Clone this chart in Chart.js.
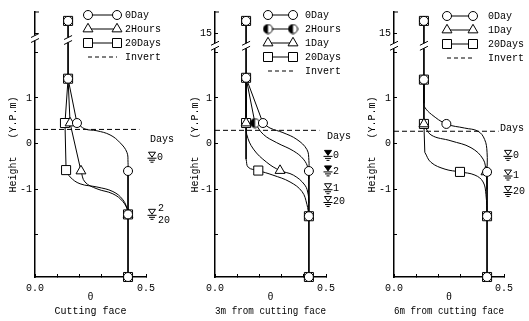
<!DOCTYPE html>
<html>
<head>
<meta charset="utf-8">
<script src="https://cdn.jsdelivr.net/npm/chart.js@4/dist/chart.umd.min.js"></script>
<style>
  html, body { margin: 0; padding: 0; background: #fff; }
  body { width: 529px; height: 321px; position: relative; overflow: hidden; }
  canvas { position: absolute; top: 0; }
</style>
</head>
<body>
<canvas id="cut" width="180" height="321" style="left:0"></canvas>
<canvas id="m3" width="180" height="321" style="left:180px"></canvas>
<canvas id="m6" width="169" height="321" style="left:360px"></canvas>
<script>
// theta (water content) vs height (Y.P. m); each profile = measured marks + traced line
// ---- cutting face ----
const cutStem = [[0.149, 15.55], [0.149, 1.42]];
const cutBase = [[0.419, -0.60], [0.419, -2.92]];
const cutInvert = [[0, 0.31], [0.47, 0.31]];
const cut0DayMarks = [[0.149, 15.55], [0.149, 1.42], [0.189, 0.45], [0.419, -0.60], [0.419, -1.55], [0.419, -2.92]];
const cut0DayLine = [[0.149, 1.42], [0.189, 0.45]];
const cut0DayCurve = [[0.189, 0.45], [0.225, 0.32], [0.279, 0.28], [0.338, 0.19], [0.383, 0.02], [0.414, -0.19], [0.419, -0.41], [0.419, -0.60]];
const cut2HourMarks = [[0.158, 0.45], [0.207, -0.60], [0.419, -1.55]];
const cut2HourLine = [[0.149, 1.42], [0.158, 0.45], [0.207, -0.60]];
const cut2HourCurve = [[0.207, -0.60], [0.225, -0.84], [0.279, -0.99], [0.351, -1.10], [0.396, -1.27], [0.419, -1.48], [0.419, -1.55]];
const cut20DayMarks = [[0.149, 15.55], [0.149, 1.42], [0.135, 0.45], [0.14, -0.58], [0.419, -1.55], [0.419, -2.92]];
const cut20DayLine = [[0.149, 1.42], [0.135, 0.45], [0.14, -0.58]];
const cut20DayCurve = [[0.14, -0.58], [0.158, -0.73], [0.203, -0.88], [0.279, -0.95], [0.351, -1.05], [0.396, -1.23], [0.419, -1.48], [0.419, -1.55]];
const cutWaterDays = [['0'], ['2', '20']];
const cutWaterLevel = [-0.32, -1.57];

// ---- 3m from cutting face ----
const m3Stem = [[0.14, 15.55], [0.14, 1.44]];
const m3Base = [[0.423, -0.60], [0.423, -2.92]];
const m3Invert = [[0, 0.29], [0.47, 0.29]];
const m30DayMarks = [[0.14, 15.55], [0.14, 1.44], [0.216, 0.45], [0.423, -0.60], [0.423, -1.59], [0.423, -2.92]];
const m30DayLine = [[0.14, 1.44], [0.216, 0.45]];
const m30DayCurve = [[0.216, 0.45], [0.248, 0.34], [0.306, 0.24], [0.369, 0.09], [0.414, -0.13], [0.423, -0.37], [0.423, -0.60]];
const m32HourMarks = [[0.18, 0.45]];
const m32HourLine = [[0.14, 1.44], [0.18, 0.45]];
const m32HourCurve = [[0.18, 0.45], [0.218, 0.20], [0.278, 0.02], [0.353, -0.16], [0.398, -0.34], [0.42, -0.55], [0.423, -0.77]];
const m31DayMarks = [[0.14, 0.45], [0.293, -0.59]];
const m31DayLine = [[0.14, 1.44], [0.14, 0.45]];
const m31DayCurve = [[0.14, 0.45], [0.143, 0.20], [0.173, -0.12], [0.233, -0.41], [0.293, -0.59], [0.353, -0.69], [0.405, -0.91], [0.42, -1.12], [0.423, -1.30]];
const m320DayMarks = [[0.14, 15.55], [0.14, 1.44], [0.14, 0.45], [0.195, -0.59], [0.423, -1.59], [0.423, -2.92]];
const m320DayLine = [[0.14, 1.44], [0.14, 0.45], [0.14, -0.34]];
const m320DayCurve = [[0.14, -0.34], [0.15, -0.52], [0.195, -0.59], [0.261, -0.69], [0.338, -0.84], [0.392, -1.05], [0.414, -1.33], [0.423, -1.59]];
const m3WaterDays = [['0'], ['2'], ['1'], ['20']];
const m3WaterLevel = [-0.28, -0.62, -1.01, -1.29];

// ---- 6m from cutting face ----
const m6Stem = [[0.136, 15.55], [0.136, 1.40]];
const m6Base = [[0.423, -0.62], [0.423, -2.92]];
const m6Invert = [[0, 0.27], [0.475, 0.27]];
const m60DayMarks = [[0.136, 15.55], [0.136, 1.40], [0.238, 0.43], [0.423, -0.62], [0.423, -1.59], [0.423, -2.92]];
const m60DayLine = [[0.136, 1.40], [0.136, 0.88]];
const m60DayCurve = [[0.136, 0.88], [0.139, 0.80], [0.17, 0.64], [0.238, 0.43], [0.321, 0.34], [0.382, 0.27], [0.412, 0.09], [0.423, -0.19], [0.423, -0.62]];
const m61DayMarks = [[0.136, 0.43], [0.418, -0.62]];
const m61DayLine = [[0.136, 1.40], [0.136, 0.43]];
const m61DayCurve = [[0.136, 0.43], [0.168, 0.19], [0.259, 0.06], [0.35, -0.09], [0.405, -0.34], [0.418, -0.62], [0.423, -1.0]];
const m620DayMarks = [[0.136, 15.55], [0.136, 1.40], [0.136, 0.43], [0.30, -0.62], [0.423, -1.59], [0.423, -2.92]];
const m620DayLine = [[0.136, 0.43], [0.14, -0.19]];
const m620DayCurve = [[0.14, -0.19], [0.168, -0.41], [0.232, -0.56], [0.30, -0.62], [0.368, -0.69], [0.405, -0.84], [0.418, -1.12], [0.423, -1.59]];
const m6WaterDays = [['0'], ['1'], ['20']];
const m6WaterLevel = [-0.28, -0.71, -1.07];

const X_TICKS = [0, 0.1, 0.2, 0.3, 0.4, 0.5];
const Y_TICKS = [-2, -1, 0, 1, 2, 15];

const FONT = "'Liberation Mono', 'DejaVu Sans Mono', monospace";

// the height axis is broken above 2 m: the 15 m region is squeezed in on top
function axisY(h) {
  return h > 5 ? 2.41 + (h - 15) * 0.5 : h;
}

function halfDot(r) {
  const c = document.createElement('canvas');
  const s = Math.ceil(r * 2 + 2);
  c.width = c.height = s;
  const g = c.getContext('2d');
  const m = s / 2;
  g.beginPath(); g.arc(m, m, r, 0, Math.PI * 2); g.fillStyle = '#fff'; g.fill();
  g.beginPath(); g.moveTo(m, m - r); g.arc(m, m, r, -Math.PI / 2, Math.PI / 2, true); g.closePath();
  g.fillStyle = '#000'; g.fill();
  g.beginPath(); g.arc(m, m, r, 0, Math.PI * 2); g.lineWidth = 1; g.strokeStyle = '#000'; g.stroke();
  return c;
}
const HALF = halfDot(4.5);

const MARKER = {
  circle: { style: 'circle', r: 4.5, order: 1 },
  half: { style: HALF, r: 4.5, order: 1 },
  triangle: { style: 'triangle', r: 5.7, order: 2 },
  rect: { style: 'rect', r: 6.4, order: 3 }
};

function line(ctx, x1, y1, x2, y2) {
  ctx.beginPath(); ctx.moveTo(x1, y1); ctx.lineTo(x2, y2); ctx.stroke();
}

function drawMarker(ctx, key, x, y) {
  ctx.save();
  ctx.fillStyle = '#fff'; ctx.strokeStyle = '#000'; ctx.lineWidth = 1;
  ctx.beginPath();
  if (key === 'circle') ctx.arc(x, y, 4.5, 0, Math.PI * 2);
  else if (key === 'rect') ctx.rect(x - 4.5, y - 4.5, 9, 9);
  else if (key === 'triangle') { ctx.moveTo(x, y - 5.7); ctx.lineTo(x + 4.94, y + 2.85); ctx.lineTo(x - 4.94, y + 2.85); ctx.closePath(); }
  if (key === 'half') ctx.drawImage(HALF, x - HALF.width / 2, y - HALF.height / 2);
  else { ctx.fill(); ctx.stroke(); }
  ctx.restore();
}

function breakMark(ctx, bx, by) {
  ctx.save();
  ctx.fillStyle = '#fff';
  ctx.fillRect(bx - 2.5, by - 3, 5, 5);
  ctx.strokeStyle = '#000'; ctx.lineWidth = 1;
  line(ctx, bx - 4, by - 1, bx + 4, by - 5);
  line(ctx, bx - 4, by + 4, bx + 4, by);
  ctx.restore();
}

function waterSymbol(ctx, sx, sy, filled) {
  ctx.beginPath();
  ctx.moveTo(sx - 3.5, sy - 6); ctx.lineTo(sx + 3.5, sy - 6); ctx.lineTo(sx, sy - 1); ctx.closePath();
  if (filled) ctx.fill();
  ctx.stroke();
  line(ctx, sx - 4.5, sy, sx + 4.5, sy);
  line(ctx, sx - 3, sy + 2, sx + 3, sy + 2);
  line(ctx, sx - 1.5, sy + 4, sx + 1.5, sy + 4);
}

const decor = {
  id: 'decor',
  afterDraw(chart, args, o) {
    const { ctx, chartArea: a, scales: { x, y } } = chart;
    ctx.save();
    ctx.strokeStyle = '#000';
    ctx.fillStyle = '#000';
    ctx.lineWidth = 1;
    line(ctx, a.left, a.top, a.left + 4, a.top);
    const by = y.getPixelForValue(o.breakAt);
    breakMark(ctx, a.left, by);
    breakMark(ctx, x.getPixelForValue(o.stemTheta), by + o.stemShift);

    ctx.font = '10px ' + FONT;
    ctx.textBaseline = 'middle';
    ctx.textAlign = 'left';
    o.legend.forEach((it, i) => {
      const ly = o.legendTop + i * 14;
      ctx.setLineDash(it.marker ? [] : [4, 3]);
      line(ctx, o.legendX[0], ly, o.legendX[1], ly);
      ctx.setLineDash([]);
      if (it.marker) {
        drawMarker(ctx, it.marker, o.legendX[0], ly);
        drawMarker(ctx, it.marker, o.legendX[1], ly);
      }
      ctx.fillStyle = '#000';
      ctx.fillText(it.name, o.legendX[2], ly);
    });

    ctx.fillText('Days', a.right + o.daysDx, o.daysY);
    o.levels.forEach((h, i) => {
      const sx = a.right + o.symbolDx;
      const sy = y.getPixelForValue(h);
      waterSymbol(ctx, sx, sy, o.filled[i]);
      const d = o.days[i];
      if (d.length === 1) ctx.fillText(d[0], sx + 5, sy - 1);
      else {
        ctx.fillText(d[0], sx + 6, sy - 7);
        ctx.fillText(d[1], sx + 6, sy + 5);
      }
    });
    ctx.restore();
  }
};

function buildPanel(id, p) {
  const pts = arr => arr.map(([x, h]) => ({ x, y: axisY(h) }));
  const path = (data, tension, dash) => ({
    data: pts(data), showLine: true, tension, borderColor: '#000', borderWidth: 1,
    borderDash: dash || [], pointRadius: 0, order: 10
  });
  const datasets = [path(p.stem, 0), path(p.base, 0), path(p.invert, 0, [5, 3])];
  p.series.forEach(s => {
    const m = MARKER[s.marker];
    datasets.push(path(s.line, 0));
    datasets.push(path(s.curve, 0.4));
    datasets.push({
      data: pts(s.marks), showLine: false, pointStyle: m.style, pointRadius: m.r,
      pointBackgroundColor: '#fff', pointBorderColor: '#000', pointBorderWidth: 1,
      order: m.order, clip: false
    });
  });

  const legend = p.series.map(s => ({ name: s.name, marker: s.marker }));
  legend.push({ name: 'Invert', marker: null });

  new Chart(document.getElementById(id), {
    type: 'scatter',
    data: { datasets },
    plugins: [decor],
    options: {
      responsive: false,
      animation: false,
      devicePixelRatio: 1,
      layout: { padding: { top: 7, right: p.padRight, left: 0, bottom: 0 } },
      plugins: {
        legend: { display: false },
        tooltip: { enabled: false },
        decor: {
          breakAt: p.breakAt, stemTheta: p.stem[0][0], stemShift: p.stemShift,
          legend, legendTop: p.legendTop, legendX: p.legendX,
          daysDx: p.daysDx, daysY: p.daysY, symbolDx: p.symbolDx,
          levels: p.waterLevel, days: p.waterDays, filled: p.filled
        }
      },
      scales: {
        x: {
          type: 'linear', min: 0, max: 0.5,
          afterBuildTicks: s => { s.ticks = X_TICKS.map(v => ({ value: v })); },
          afterFit: s => { s.height = 44; },
          grid: { drawOnChartArea: false, tickLength: -3, color: '#000', lineWidth: 1 },
          border: { color: '#000', width: 1.5 },
          ticks: {
            padding: 8, color: '#000', maxRotation: 0, autoSkip: false,
            font: { family: FONT, size: 10 },
            callback: v => (v === 0 ? '0.0' : v === 0.5 ? '0.5' : '')
          },
          title: {
            display: true, text: ['θ', p.caption], color: '#000',
            font: { family: FONT, size: 10, lineHeight: '14px' },
            padding: { top: 0, bottom: 3 }
          }
        },
        y: {
          type: 'linear', min: -2.92, max: 2.88,
          afterBuildTicks: s => { s.ticks = Y_TICKS.map(v => ({ value: axisY(v) })); },
          afterFit: s => { s.width = p.axisWidth; },
          grid: { drawOnChartArea: false, tickLength: -3, color: '#000', lineWidth: 1 },
          border: { color: '#000', width: 1.5 },
          ticks: {
            padding: 6, color: '#000',
            font: { family: FONT, size: 10 },
            callback: v => {
              if (v === axisY(15)) return p.show15 ? '15' : '';
              return [-1, 0, 1].includes(v) ? String(v) : '';
            }
          },
          title: {
            display: true, text: 'Height   (Y.P.m)', color: '#000',
            font: { family: FONT, size: 10 },
            padding: { top: p.titlePad, bottom: 0 }
          }
        }
      }
    }
  });
}

buildPanel('cut', {
  caption: 'Cutting face', axisWidth: 35, padRight: 34, titlePad: 7, show15: false,
  breakAt: 2.30, stemShift: 2,
  stem: cutStem, base: cutBase, invert: cutInvert,
  series: [
    { name: '0Day', marker: 'circle', marks: cut0DayMarks, line: cut0DayLine, curve: cut0DayCurve },
    { name: '2Hours', marker: 'triangle', marks: cut2HourMarks, line: cut2HourLine, curve: cut2HourCurve },
    { name: '20Days', marker: 'rect', marks: cut20DayMarks, line: cut20DayLine, curve: cut20DayCurve }
  ],
  legendTop: 15, legendX: [88, 117, 125],
  daysDx: 4, daysY: 139, symbolDx: 6,
  waterLevel: cutWaterLevel, waterDays: cutWaterDays, filled: [false, false]
});

buildPanel('m3', {
  caption: '3m from cutting face', axisWidth: 35, padRight: 34, titlePad: 9, show15: true,
  breakAt: 2.13, stemShift: 0,
  stem: m3Stem, base: m3Base, invert: m3Invert,
  series: [
    { name: '0Day', marker: 'circle', marks: m30DayMarks, line: m30DayLine, curve: m30DayCurve },
    { name: '2Hours', marker: 'half', marks: m32HourMarks, line: m32HourLine, curve: m32HourCurve },
    { name: '1Day', marker: 'triangle', marks: m31DayMarks, line: m31DayLine, curve: m31DayCurve },
    { name: '20Days', marker: 'rect', marks: m320DayMarks, line: m320DayLine, curve: m320DayCurve }
  ],
  legendTop: 15, legendX: [88, 113, 125],
  daysDx: 1, daysY: 136, symbolDx: 2,
  waterLevel: m3WaterLevel, waterDays: m3WaterDays, filled: [true, true, false, false]
});

buildPanel('m6', {
  caption: '6m from cutting face', axisWidth: 34, padRight: 25, titlePad: 6, show15: true,
  breakAt: 2.13, stemShift: 0,
  stem: m6Stem, base: m6Base, invert: m6Invert,
  series: [
    { name: '0Day', marker: 'circle', marks: m60DayMarks, line: m60DayLine, curve: m60DayCurve },
    { name: '1Day', marker: 'triangle', marks: m61DayMarks, line: m61DayLine, curve: m61DayCurve },
    { name: '20Days', marker: 'rect', marks: m620DayMarks, line: m620DayLine, curve: m620DayCurve }
  ],
  legendTop: 16, legendX: [87, 113, 128],
  daysDx: -4, daysY: 128, symbolDx: 4,
  waterLevel: m6WaterLevel, waterDays: m6WaterDays, filled: [false, false, false]
});
</script>
</body>
</html>
